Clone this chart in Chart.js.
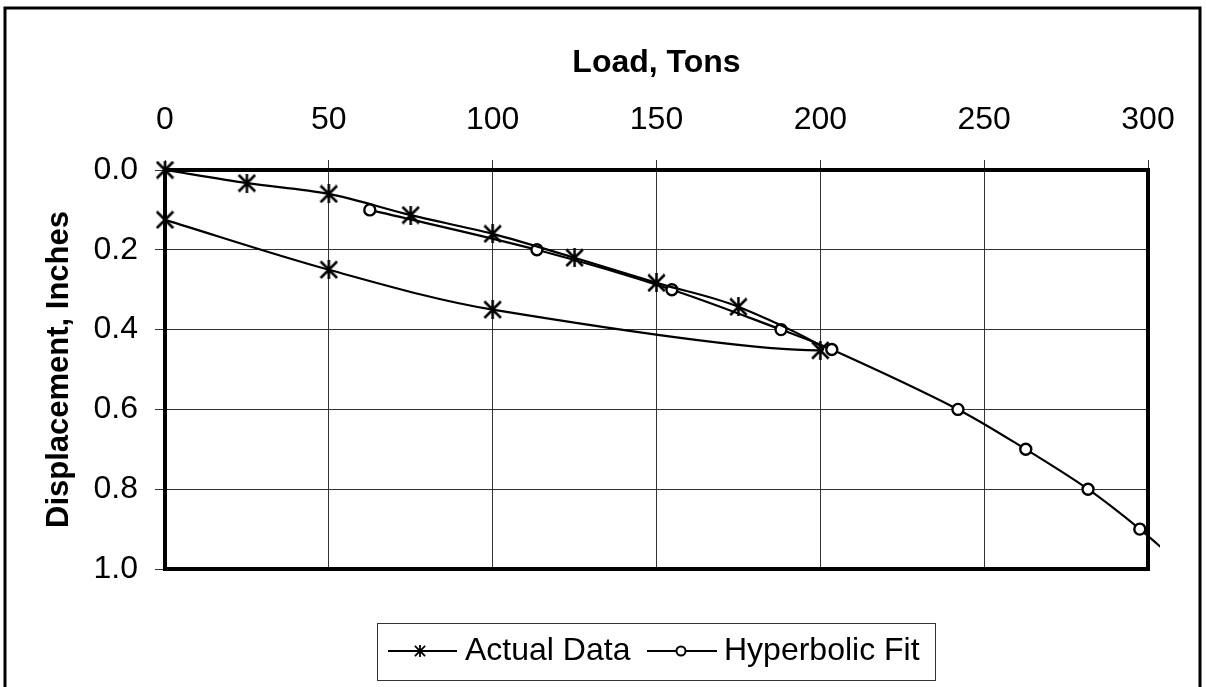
<!DOCTYPE html>
<html>
<head>
<meta charset="utf-8">
<script src="https://cdn.jsdelivr.net/npm/chart.js@4"></script>
<style>
  html, body { margin: 0; padding: 0; background: #fff; }
  canvas { display: block; }
</style>
</head>
<body>
<canvas id="c" width="1206" height="687"></canvas>
<script>
// ---- Data ----
const actualLoad = [0, 25, 50, 75, 100, 125, 150, 175, 200, 100, 50, 0];
const actualDisp = [0, 0.033, 0.06, 0.113, 0.16, 0.22, 0.283, 0.343, 0.452, 0.35, 0.25, 0.125];
const fitLoad = [62.5, 113.5, 154.7, 188, 203.5, 242, 262.7, 281.7, 297.5, 311.5];
const fitDisp = [0.1, 0.2, 0.3, 0.4, 0.45, 0.6, 0.7, 0.8, 0.9, 1.0];
const xTicks = [0, 50, 100, 150, 200, 250, 300];
const yTicks = [0.0, 0.2, 0.4, 0.6, 0.8, 1.0];
const seriesNames = ['Actual Data', 'Hyperbolic Fit'];
const xTitle = 'Load, Tons';
const yTitle = 'Displacement, Inches';

const FONT = "'Liberation Sans', Arial, sans-serif";

function makeStar(size, lw) {
  const c = document.createElement('canvas');
  c.width = size; c.height = size;
  const g = c.getContext('2d');
  g.strokeStyle = '#000';
  g.lineWidth = lw;
  g.lineCap = 'butt';
  const m = lw / 2;
  g.beginPath();
  g.moveTo(m, m); g.lineTo(size - m, size - m);
  g.moveTo(size - m, m); g.lineTo(m, size - m);
  g.moveTo(size / 2, 0); g.lineTo(size / 2, size);
  g.stroke();
  return c;
}
const starBig = makeStar(19, 2.5);
const starSmall = makeStar(12, 1.8);

const toXY = (xs, ys) => xs.map((x, i) => ({ x: x, y: ys[i] }));

const framePlugin = {
  id: 'frame',
  beforeDatasetsDraw(chart) {
    const { ctx, chartArea: a } = chart;
    ctx.save();
    ctx.strokeStyle = '#000';
    ctx.lineWidth = 4;
    ctx.strokeRect(a.left, a.top, a.right - a.left, a.bottom - a.top);
    ctx.restore();
  },
  afterDraw(chart) {
    const ctx = chart.ctx;
    ctx.save();
    // outer chart border
    ctx.strokeStyle = '#000';
    ctx.lineWidth = 3;
    ctx.strokeRect(5, 8, 1195, 700);
    // legend box
    ctx.lineWidth = 1;
    ctx.strokeStyle = '#333';
    ctx.strokeRect(377.5, 623.5, 558, 57);
    const ly = 651;
    ctx.strokeStyle = '#000';
    ctx.lineWidth = 2;
    ctx.beginPath();
    ctx.moveTo(388, ly); ctx.lineTo(457, ly);
    ctx.moveTo(647, ly); ctx.lineTo(717, ly);
    ctx.stroke();
    ctx.drawImage(starSmall, 420 - 6, ly - 6);
    ctx.beginPath();
    ctx.arc(681, ly, 4.5, 0, Math.PI * 2);
    ctx.fillStyle = '#fff';
    ctx.fill();
    ctx.lineWidth = 2;
    ctx.stroke();
    ctx.fillStyle = '#000';
    ctx.font = '32px ' + FONT;
    ctx.textBaseline = 'middle';
    ctx.textAlign = 'left';
    ctx.fillText(seriesNames[0], 465, ly);
    ctx.fillText(seriesNames[1], 724, ly);
    ctx.restore();
  }
};

new Chart(document.getElementById('c'), {
  type: 'scatter',
  data: {
    datasets: [
      {
        label: seriesNames[0],
        data: toXY(actualLoad, actualDisp),
        showLine: true,
        borderColor: '#000',
        borderWidth: 2.2,
        tension: 0.33,
        pointStyle: starBig,
        pointRadius: 9,
        clip: false
      },
      {
        label: seriesNames[1],
        data: toXY(fitLoad, fitDisp),
        showLine: true,
        borderColor: '#000',
        backgroundColor: '#fff',
        borderWidth: 2.2,
        tension: 0.33,
        pointStyle: 'circle',
        pointRadius: [5.5, 5.5, 5.5, 5.5, 5.5, 5.5, 5.5, 5.5, 5.5, 0],
        pointBorderWidth: 2.4,
        pointBackgroundColor: '#fff',
        clip: { left: 10, top: 10, right: 12, bottom: 10 }
      }
    ]
  },
  plugins: [framePlugin],
  options: {
    responsive: false,
    animation: false,
    devicePixelRatio: 1,
    layout: { padding: { left: 0, top: 0, right: 58, bottom: 118 } },
    plugins: {
      legend: { display: false },
      tooltip: { enabled: false }
    },
    scales: {
      x: {
        type: 'linear',
        position: 'top',
        min: 0, max: 300,
        afterFit(s) { s.height = 170; },
        afterBuildTicks(s) { s.ticks = xTicks.map(v => ({ value: v })); },
        ticks: {
          color: '#000',
          font: { family: FONT, size: 32 },
          padding: 21,
          maxRotation: 0,
          callback: v => String(v)
        },
        grid: { color: '#333', lineWidth: 1, tickLength: 10, tickColor: '#333' },
        border: { display: false },
        title: {
          display: true,
          text: xTitle,
          color: '#000',
          font: { family: FONT, size: 32, weight: 'bold' },
          padding: { top: 44, bottom: 0 }
        }
      },
      y: {
        type: 'linear',
        position: 'left',
        reverse: true,
        min: 0, max: 1,
        afterFit(s) { s.width = 165; },
        afterBuildTicks(s) { s.ticks = yTicks.map(v => ({ value: v })); },
        ticks: {
          color: '#000',
          font: { family: FONT, size: 32 },
          padding: 17,
          callback: v => Number(v).toFixed(1)
        },
        grid: { color: '#333', lineWidth: 1, tickLength: 10, tickColor: '#333' },
        border: { display: false },
        title: {
          display: true,
          text: yTitle,
          color: '#000',
          font: { family: FONT, size: 31, weight: 'bold' },
          padding: { top: 41, bottom: 0 }
        }
      }
    }
  }
});
</script>
</body>
</html>
